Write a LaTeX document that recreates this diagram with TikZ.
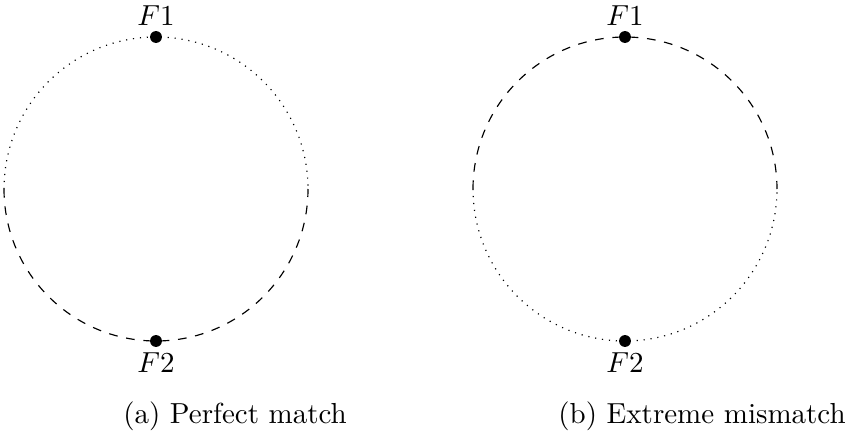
\documentclass[tikz,border=0pt]{standalone}
\usepackage{amsmath}
\usepackage{tikz}
\usetikzlibrary{positioning}

\begin{document}
\begin{tikzpicture}[
  x=0.345pt, y=0.345pt,
  focus/.style={circle, fill=black, minimum size=4.1pt, inner sep=0pt},
  flbl/.style={inner sep=1pt},
]
\useasboundingbox (0,0) rectangle (848,433);

% (a) Perfect match: dotted upper half, dashed lower half
\coordinate (al) at (4,244);
\draw[dotted] (al) arc[start angle=180, end angle=0, radius=152];
\draw[dashed] (al) arc[start angle=180, end angle=360, radius=152];
\node[focus] (a1) at (156,396) {};
\node[focus] (a2) at (156,92) {};
\node[flbl, above=0.5pt of a1] (a1l) {$F1$};
\node[flbl, below=0.5pt of a2] (a2l) {$F2$};
\node (acap) at (235,17) {(a) Perfect match};

% (b) Extreme mismatch: dashed upper half, dotted lower half
\coordinate (bl) at (473,244);
\draw[dashed] (bl) arc[start angle=180, end angle=0, radius=152];
\draw[dotted] (bl) arc[start angle=180, end angle=360, radius=152];
\node[focus] (b1) at (625,396) {};
\node[focus] (b2) at (625,92) {};
\node[flbl, above=0.5pt of b1] (b1l) {$F1$};
\node[flbl, below=0.5pt of b2] (b2l) {$F2$};
\node (bcap) at (702,17) {(b) Extreme mismatch};
\end{tikzpicture}
\end{document}
